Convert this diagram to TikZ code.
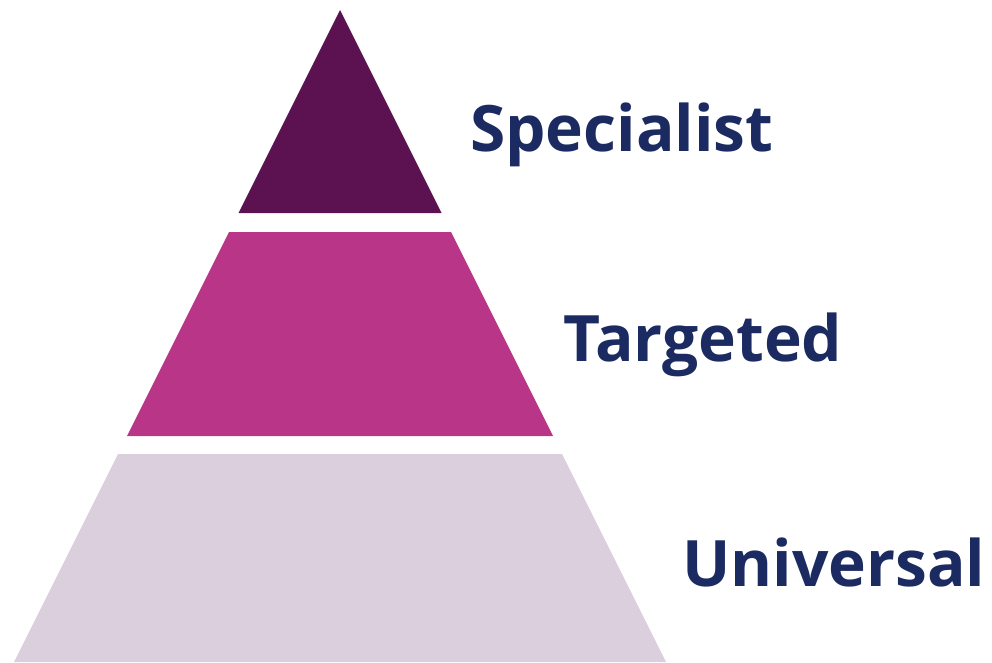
\documentclass[tikz,border=0pt]{standalone}
\usepackage{fontspec}
\setmainfont{Open Sans}
\definecolor{topc}{HTML}{5C1150}
\definecolor{midc}{HTML}{B83588}
\definecolor{botc}{HTML}{DCCFDD}
\definecolor{txtc}{HTML}{1B2A60}
\begin{document}
\begin{tikzpicture}[x=1pt,y=-1pt,
  lbl/.style={anchor=base west,inner sep=0pt,text=txtc,font=\fontsize{64}{70}\selectfont\bfseries}]
\useasboundingbox (0,0) rectangle (992,662);
% half-width = 0.5*(y-10), centre x=340
\fill[topc] (340,10) -- (441.5,213) -- (238.5,213) -- cycle;
\fill[midc] (229,232) -- (451,232) -- (553,436) -- (127,436) -- cycle;
\fill[botc] (118,454) -- (562,454) -- (666,662) -- (14,662) -- cycle;
\node[lbl] (spec) at (470,151) {Specialist};
\node[lbl] (targ) at (563,361) {Targeted};
\node[lbl] (univ) at (682,586) {Universal};
\end{tikzpicture}
\end{document}
